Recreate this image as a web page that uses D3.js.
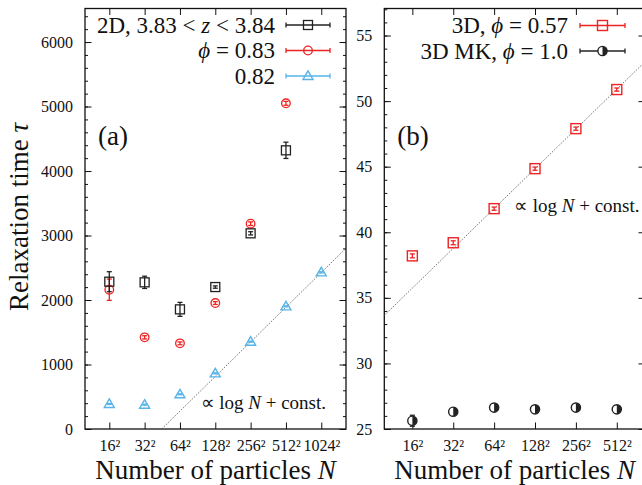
<!DOCTYPE html>
<html><head><meta charset="utf-8">
<script src="https://cdn.jsdelivr.net/npm/d3@7"></script>
<style>
html,body{margin:0;padding:0;background:#fff;}
svg text{font-family:"Liberation Serif","Times New Roman",serif;fill:#111;}
</style></head>
<body><svg id="c" width="642" height="485"></svg>
<script>
// ---------- data ----------
const sidesA = [16, 32, 64, 128, 256, 512, 1024];        // N = side^2
const sidesB = [16, 32, 64, 128, 256, 512];
const tickLabelsA = ["16\u00B2", "32\u00B2", "64\u00B2", "128\u00B2", "256\u00B2", "512\u00B2", "1024\u00B2"];
const tickLabelsB = ["16\u00B2", "32\u00B2", "64\u00B2", "128\u00B2", "256\u00B2", "512\u00B2"];

// panel (a)
const z2dSides = [16, 32, 64, 128, 256, 512];
const z2dTau   = [2284, 2274, 1855, 2201, 3034, 4321];
const z2dErr   = [155, 95, 108, 18, 25, 126];
const phi083Sides = [16, 32, 64, 128, 256, 512];
const phi083Tau   = [2160, 1421, 1328, 1953, 3183, 5050];
const phi083Err   = [165, 25, 22, 22, 28, 30];
const phi082Sides = [16, 32, 64, 128, 256, 512, 1024];
const phi082Tau   = [388, 377, 538, 863, 1354, 1902, 2429];
const phi082Err   = [8, 8, 8, 8, 8, 8, 8];
const fitA = [[5.484, 0], [10.70, 2802]];   // [log2(side), tau]

// panel (b)
const phi057Sides = [16, 32, 64, 128, 256, 512];
const phi057Tau   = [38.2, 39.2, 41.8, 44.85, 47.9, 50.88];
const phi057Err   = [0.15, 0.15, 0.12, 0.12, 0.12, 0.12];
const mkSides = [16, 32, 64, 128, 256, 512];
const mkTau   = [25.63, 26.32, 26.63, 26.5, 26.63, 26.5];
const mkErr   = [0.42, 0.1, 0.1, 0.1, 0.1, 0.1];
const fitB = [[3.314, 33.66], [9.69, 53.0]];

const yTicksA = [0, 1000, 2000, 3000, 4000, 5000, 6000];
const yTicksB = [25, 30, 35, 40, 45, 50, 55];

// ---------- drawing ----------
const svg = d3.select("#c");
const RED = "#ee2222", BLUE = "#56b4e9", BLK = "#222";
const PHI = "\u03D5";

function panel(o) {
  const g = svg.append("g");
  const x = d3.scaleLinear().domain(o.xdom).range([o.x0, o.x1]);
  const y = d3.scaleLinear().domain(o.ydom).range([o.y1, o.y0]);
  const xt = o.sides.map(s => Math.log2(s));
  const minor = d3.range(o.ydom[0], o.ydom[1] + 1e-9, o.minorStep);
  g.append("g").attr("transform", `translate(${o.x0},0)`)
    .call(d3.axisLeft(y).tickValues(minor).tickSize(-3).tickSizeOuter(0).tickFormat(""));
  g.append("g").attr("transform", `translate(${o.x1},0)`)
    .call(d3.axisRight(y).tickValues(minor).tickSize(-3).tickSizeOuter(0).tickFormat(""));
  const ya = g.append("g").attr("transform", `translate(${o.x0},0)`)
    .call(d3.axisLeft(y).tickValues(o.yticks).tickSize(-6.5).tickSizeOuter(0).tickPadding(12)
      .tickFormat(d3.format("d")));
  ya.selectAll("text").style("font-size", "16px").style("font-family", '"Liberation Serif",serif');
  g.append("g").attr("transform", `translate(${o.x1},0)`)
    .call(d3.axisRight(y).tickValues(o.yticks).tickSize(-6.5).tickSizeOuter(0).tickFormat(""));
  const xb = g.append("g").attr("transform", `translate(0,${o.y1})`)
    .call(d3.axisBottom(x).tickValues(xt).tickSize(-6.5).tickSizeOuter(0).tickPadding(11)
      .tickFormat((d, i) => o.labels[i]));
  xb.selectAll("text").style("font-size", "16px").style("font-family", '"Liberation Serif",serif');
  g.append("g").attr("transform", `translate(0,${o.y0})`)
    .call(d3.axisTop(x).tickValues(xt).tickSize(-6.5).tickSizeOuter(0).tickFormat(""));
  g.selectAll(".domain").remove();
  g.selectAll(".tick line").attr("stroke", "#111").attr("stroke-width", 1);
  g.append("rect").attr("x", o.x0).attr("y", o.y0).attr("width", o.x1 - o.x0).attr("height", o.y1 - o.y0)
    .attr("fill", "none").attr("stroke", "#111").attr("stroke-width", 1.3);
  const cid = "clip" + o.id;
  svg.append("clipPath").attr("id", cid).append("rect")
    .attr("x", o.x0).attr("y", o.y0).attr("width", o.x1 - o.x0).attr("height", o.y1 - o.y0);
  g.append("path").datum(o.fit).attr("clip-path", `url(#${cid})`)
    .attr("d", d3.line().x(d => x(d[0])).y(d => y(d[1])))
    .attr("fill", "none").attr("stroke", "#555").attr("stroke-width", 0.8).attr("stroke-dasharray", "1.6,1.4");
  const xtl = g.append("text").attr("x", (o.x0 + o.x1) / 2).attr("y", 479).attr("text-anchor", "middle")
    .style("font-size", "27px");
  xtl.append("tspan").text("Number of particles ");
  xtl.append("tspan").style("font-style", "italic").text("N");
  g.append("text").attr("x", o.x0 + 13).attr("y", 145).style("font-size", "27px").text(o.name);
  const an = g.append("text").attr("x", o.annX).attr("y", o.annY).style("font-size", "19px");
  an.append("tspan").text("\u221D log ");
  an.append("tspan").style("font-style", "italic").text("N");
  an.append("tspan").text(" + const.");
  return {g, x, y};
}

function marker(g, type, color, cx, cy) {
  if (type === "square") {
    g.append("rect").attr("x", cx - 4.5).attr("y", cy - 4.5).attr("width", 9).attr("height", 9)
      .attr("fill", "none").attr("stroke", color).attr("stroke-width", 1.3);
  } else if (type === "bigsquare") {
    g.append("rect").attr("x", cx - 5).attr("y", cy - 5).attr("width", 10).attr("height", 10)
      .attr("fill", "none").attr("stroke", color).attr("stroke-width", 1.4);
  } else if (type === "circle") {
    g.append("circle").attr("cx", cx).attr("cy", cy).attr("r", 4.3)
      .attr("fill", "none").attr("stroke", color).attr("stroke-width", 1.3);
  } else if (type === "triangle") {
    g.append("path").attr("d", `M${cx - 5},${cy + 3.5}L${cx + 5},${cy + 3.5}L${cx},${cy - 5}Z`)
      .attr("fill", "none").attr("stroke", color).attr("stroke-width", 1.4);
  } else if (type === "mk") {
    const r = 4.6;
    g.append("circle").attr("cx", cx).attr("cy", cy).attr("r", r)
      .attr("fill", "#fff").attr("stroke", color).attr("stroke-width", 1.4);
    const arc = d3.arc().innerRadius(0).outerRadius(r).startAngle(0).endAngle(Math.PI);
    g.append("path").attr("transform", `translate(${cx},${cy})`).attr("d", arc()).attr("fill", color);
  }
}

function series(p, sides, vals, errs, type, color) {
  const grp = p.g.append("g");
  sides.forEach((s, i) => {
    const cx = p.x(Math.log2(s)), cy = p.y(vals[i]);
    const yl = p.y(vals[i] - errs[i]), yh = p.y(vals[i] + errs[i]);
    grp.append("line").attr("x1", cx).attr("x2", cx).attr("y1", yl).attr("y2", yh)
      .attr("stroke", color).attr("stroke-width", 1.3);
    [yl, yh].forEach(yy => grp.append("line").attr("x1", cx - 2.5).attr("x2", cx + 2.5)
      .attr("y1", yy).attr("y2", yy).attr("stroke", color).attr("stroke-width", 1.3));
    marker(grp, type, color, cx, cy);
  });
}

function legendRow(g, xEnd, lx0, lx1, cy, parts, type, color) {
  const t = g.append("text").attr("x", xEnd).attr("y", cy + 7.5).attr("text-anchor", "end")
    .style("font-size", "23px");
  parts.forEach(p => t.append("tspan").style("font-style", p[1] ? "italic" : "normal").text(p[0]));
  g.append("line").attr("x1", lx0).attr("x2", lx1).attr("y1", cy).attr("y2", cy)
    .attr("stroke", color).attr("stroke-width", 1.3);
  [lx0, lx1].forEach(xx => g.append("line").attr("x1", xx).attr("x2", xx).attr("y1", cy - 2.5)
    .attr("y2", cy + 2.5).attr("stroke", color).attr("stroke-width", 1.3));
  marker(g, type, color, (lx0 + lx1) / 2, cy);
}

const pa = panel({id: "a", x0: 85, x1: 346, y0: 8.5, y1: 429, xdom: [3.312, 10.70], ydom: [0, 6520],
  sides: sidesA, labels: tickLabelsA, yticks: yTicksA, minorStep: 200, fit: fitA, name: "(a)",
  annX: 200.5, annY: 409});
const pb = panel({id: "b", x0: 384.3, x1: 645, y0: 8.5, y1: 429, xdom: [3.314, 9.69], ydom: [25, 57.06],
  sides: sidesB, labels: tickLabelsB, yticks: yTicksB, minorStep: 1, fit: fitB, name: "(b)",
  annX: 514, annY: 212});

series(pa, phi082Sides, phi082Tau, phi082Err, "triangle", BLUE);
series(pa, phi083Sides, phi083Tau, phi083Err, "circle", RED);
series(pa, z2dSides, z2dTau, z2dErr, "square", BLK);
series(pb, phi057Sides, phi057Tau, phi057Err, "bigsquare", RED);
series(pb, mkSides, mkTau, mkErr, "mk", BLK);

legendRow(pa.g, 275, 286, 330, 25, [["2D, 3.83 < ", 0], ["z", 1], [" < 3.84", 0]], "square", BLK);
legendRow(pa.g, 275, 286, 330, 50.5, [[PHI, 1], [" = 0.83", 0]], "circle", RED);
legendRow(pa.g, 275, 286, 330, 76, [["0.82", 0]], "triangle", BLUE);
legendRow(pb.g, 568, 580, 625, 25.5, [["3D, ", 0], [PHI, 1], [" = 0.57", 0]], "bigsquare", RED);
legendRow(pb.g, 568, 580, 625, 51, [["3D MK, ", 0], [PHI, 1], [" = 1.0", 0]], "mk", BLK);

const yt = svg.append("text").attr("transform", "translate(28,217) rotate(-90)")
  .attr("text-anchor", "middle").style("font-size", "27px");
yt.append("tspan").text("Relaxation time ");
yt.append("tspan").style("font-style", "italic").text("\u03C4");
</script></body></html>
